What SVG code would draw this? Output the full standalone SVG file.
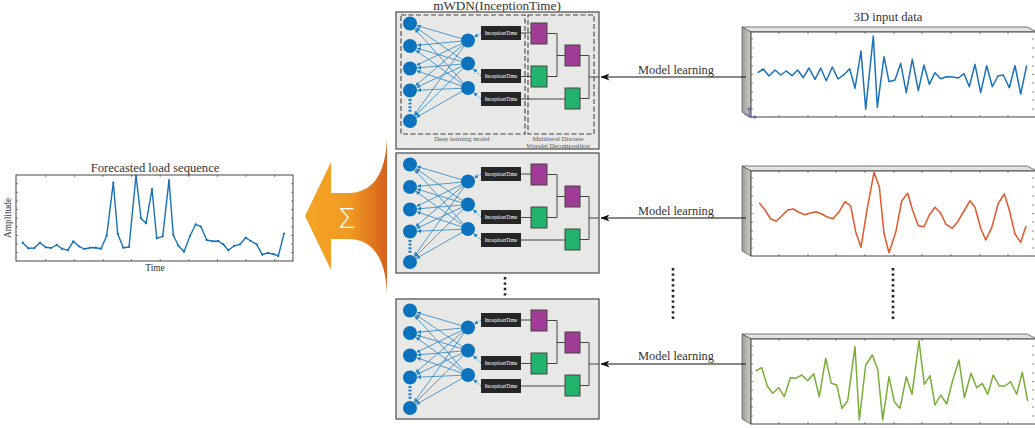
<svg xmlns="http://www.w3.org/2000/svg" xmlns:xlink="http://www.w3.org/1999/xlink" width="1035" height="428" viewBox="0 0 1035 428">
<style>
text{font-family:"Liberation Serif","DejaVu Serif",serif;fill:#333}
.title{font-size:12.6px}
.ml{font-size:12.4px}
.small{font-size:6.6px;fill:#555}
.it{font-size:5.6px;fill:#fff}
.box{fill:#e8e8e6;stroke:#555;stroke-width:1.3}
.dash{fill:none;stroke:#444;stroke-width:1.1;stroke-dasharray:5 2.5}
.nn{fill:#0b72be}
.nl{stroke:#1f7fc9;stroke-width:0.75;fill:none}
.itbox{fill:#262626}
.pur{fill:#a03c96;stroke:#444;stroke-width:1}
.grn{fill:#22b46c;stroke:#444;stroke-width:1}
.wl{fill:none;stroke:#333;stroke-width:0.9}
.frame{fill:#fff;stroke:#333;stroke-width:0.9}
.tick{fill:none;stroke:#333;stroke-width:0.6}
.side{fill:#b9b9b2;stroke:#555;stroke-width:0.7}
.topf{fill:#e4e4e2;stroke:#444;stroke-width:0.7}
.conn{stroke:#111;stroke-width:1.1;fill:none}
.dots{stroke:#222;stroke-width:2.6;stroke-dasharray:2.4 3;fill:none}
</style>
<defs>
<marker id="ah" markerWidth="4" markerHeight="4" refX="3.6" refY="2" orient="auto" markerUnits="userSpaceOnUse">
<path d="M0,0 L4,2 L0,4 z" fill="#1f7fc9"/>
</marker>
<marker id="bh" markerWidth="9" markerHeight="7" refX="8.5" refY="3.5" orient="auto" markerUnits="userSpaceOnUse">
<path d="M0,0 L9,3.5 L0,7 L2.5,3.5 z" fill="#111"/>
</marker>
<marker id="dot" markerWidth="3" markerHeight="3" refX="1.5" refY="1.5" markerUnits="userSpaceOnUse">
<circle cx="1.5" cy="1.5" r="1.1" fill="#1672b8"/>
</marker>
<linearGradient id="og" x1="305" y1="0" x2="387" y2="0" gradientUnits="userSpaceOnUse">
<stop offset="0" stop-color="#f4a526"/>
<stop offset="0.55" stop-color="#f09a22"/>
<stop offset="1" stop-color="#d6601e"/>
</linearGradient>
<linearGradient id="sg" x1="0" y1="0" x2="1" y2="0">
<stop offset="0" stop-color="#9c9c95"/>
<stop offset="1" stop-color="#cfcfc9"/>
</linearGradient>
<g id="wdn">
<g class="nl" marker-end="url(#ah)">
<line x1="72" y1="28.5" x2="21.2" y2="13.6"/>
<line x1="72" y1="28.5" x2="21.5" y2="33.3"/>
<line x1="72" y1="28.5" x2="20.8" y2="53.2"/>
<line x1="72" y1="28.5" x2="19.7" y2="73.6"/>
<line x1="72" y1="28.5" x2="18.4" y2="102.9"/>
<line x1="72" y1="51.5" x2="20.2" y2="15.8"/>
<line x1="72" y1="51.5" x2="21.2" y2="36.2"/>
<line x1="72" y1="51.5" x2="21.5" y2="55.9"/>
<line x1="72" y1="51.5" x2="20.8" y2="75.3"/>
<line x1="72" y1="51.5" x2="19.3" y2="103.7"/>
<line x1="72" y1="76" x2="19.0" y2="17.1"/>
<line x1="72" y1="76" x2="20.1" y2="38.4"/>
<line x1="72" y1="76" x2="21.1" y2="58.9"/>
<line x1="72" y1="76" x2="21.5" y2="78.2"/>
<line x1="72" y1="76" x2="20.5" y2="105.3"/>
</g>
<g class="nl" stroke-dasharray="1.5 1" marker-end="url(#ah)">
<line x1="85" y1="21" x2="78.5" y2="24.8"/>
<line x1="85" y1="64" x2="77.4" y2="56.7"/>
<line x1="85" y1="87" x2="77.7" y2="80.8"/>
</g>
<g class="nn">
<circle cx="14" cy="11.5" r="7"/>
<circle cx="14" cy="34" r="7"/>
<circle cx="14" cy="56.5" r="7"/>
<circle cx="14" cy="78.5" r="7"/>
<circle cx="14" cy="109" r="7"/>
<circle cx="72" cy="28.5" r="7"/>
<circle cx="72" cy="51.5" r="7"/>
<circle cx="72" cy="76" r="7"/>
</g>
<line x1="14" y1="87" x2="14" y2="101" stroke="#1f7fc9" stroke-width="3" stroke-dasharray="2 1.6"/>
<rect class="itbox" x="85" y="14" width="40" height="14"/>
<rect class="itbox" x="85" y="57" width="40" height="14"/>
<rect class="itbox" x="85" y="80" width="40" height="14"/>
<text class="it" x="105" y="23" text-anchor="middle">InceptionTime</text>
<text class="it" x="105" y="66" text-anchor="middle">InceptionTime</text>
<text class="it" x="105" y="89" text-anchor="middle">InceptionTime</text>
<path class="wl" d="M125,21 H135 M151,21.5 H161 V64.5 H151 M161,43.5 H169 M125,64.5 H135 M125,87 H169 M184,43.5 H193 V86.5 H184 M193,65 H203"/>
<rect class="pur" x="135" y="11" width="16" height="21"/>
<rect class="grn" x="135" y="54" width="16" height="21"/>
<rect class="pur" x="169" y="33" width="15" height="21"/>
<rect class="grn" x="169" y="76" width="15" height="21"/>
</g>
<path id="pticks" class="tick" d="M28,0v2M57,0v2M85,0v2M114,0v2M143,0v2M171,0v2M200,0v2M229,0v2M257,0v2M28,85v-2M57,85v-2M85,85v-2M114,85v-2M143,85v-2M171,85v-2M200,85v-2M229,85v-2M257,85v-2M0,7h2M0,16h2M0,25h2M0,34h2M0,42.5h2M0,51h2M0,60h2M0,68h2M0,77h2M281,7h2M281,16h2M281,25h2M281,34h2M281,42.5h2M281,51h2M281,60h2M281,68h2M281,77h2"/>
</defs>

<!-- Forecast plot -->
<g id="forecast">
<text class="title" x="155" y="171.5" text-anchor="middle">Forecasted load sequence</text>
<rect class="frame" x="16" y="175" width="277" height="86"/>
<path class="tick" d="M45.7,175v2M74.3,175v2M103,175v2M131.6,175v2M160.2,175v2M188.8,175v2M217.4,175v2M246,175v2M274.6,175v2M45.7,261v-2M74.3,261v-2M103,261v-2M131.6,261v-2M160.2,261v-2M188.8,261v-2M217.4,261v-2M246,261v-2M274.6,261v-2M16,183.7h2M16,192.3h2M16,201h2M16,209.6h2M16,218.2h2M16,226.8h2M16,235.4h2M16,244h2M16,252.6h2M293,183.7h-2M293,192.3h-2M293,201h-2M293,209.6h-2M293,218.2h-2M293,226.8h-2M293,235.4h-2M293,244h-2M293,252.6h-2"/>
<polyline fill="none" stroke="#1672b8" stroke-width="1.4" stroke-linejoin="round" marker-start="url(#dot)" marker-mid="url(#dot)" marker-end="url(#dot)" points="22.7,242.7 28.3,248.3 34.3,248 40,242.7 45.7,247.3 51,248 56.7,245 62,248.7 67.7,250.3 73.3,241.3 79,246.3 84.3,249 90,247.7 95.7,247.7 101,248.7 106.7,235.7 113.3,182.7 117.7,233.7 123.3,247.7 129,247 136,175.7 141,218.3 146,223.3 152,189 156.7,238.3 162.7,236.3 169,180.3 173.3,235 178.3,245.7 184,251.7 190,236 195.7,224.3 201,226.7 206.7,240 212.7,241.3 218.3,241 223.3,244.3 228.3,250.3 234,246 240,244.3 245.7,237.7 250.7,241 256.7,244.3 262.3,254.7 267.7,253 273.3,254 278.3,256 284,233.7"/>
<text x="11" y="218" font-size="9.4" text-anchor="middle" transform="rotate(-90 11 218)">Amplitude</text>
<text x="155" y="271" font-size="9.4" text-anchor="middle">Time</text>
</g>

<!-- Sum arrow -->
<g id="sum">
<path fill="url(#og)" d="M305,216 L331,162 L331,193 L348,193 C372,193 386,175 387,137 L387,295 C386,257 372,239 348,239 L331,239 L331,270 Z"/>
<text x="347" y="228" font-size="28" style="fill:#fff;font-family:'Open Sans','Lato','Liberation Sans',sans-serif;font-weight:300" text-anchor="middle">Σ</text>
</g>

<!-- mWDN boxes -->
<text class="title" x="497" y="10" text-anchor="middle" style="font-size:13.2px">mWDN(InceptionTime)</text>
<g id="mwdn-1" transform="translate(396,12)">
<rect class="box" x="0" y="0" width="203" height="137"/>
<rect class="dash" x="5" y="3" width="124" height="119"/>
<rect class="dash" x="132" y="3" width="66" height="119"/>
<use href="#wdn" xlink:href="#wdn"/>
<text class="small" x="66" y="129" text-anchor="middle">Deep learning model</text>
<text class="small" x="162" y="129" text-anchor="middle">Multilevel Discrete</text>
<text class="small" x="162" y="136" text-anchor="middle">Wavelet Decomposition</text>
</g>
<g id="mwdn-2" transform="translate(396,153)">
<rect class="box" x="0" y="0" width="203" height="120"/>
<use href="#wdn" xlink:href="#wdn"/>
</g>
<g id="mwdn-3" transform="translate(396,299)">
<rect class="box" x="0" y="0" width="203" height="120"/>
<use href="#wdn" xlink:href="#wdn"/>
</g>

<!-- Input panels -->
<g id="input-1">
<text class="title" x="888" y="21" text-anchor="middle">3D input data</text>
<polygon class="topf" points="742,27 1027,27 1037,32 751,32"/>
<polygon class="side" style="fill:url(#sg)" points="742,27 751,32 751,117 742,112"/>
<rect class="frame" x="751" y="32" width="290" height="85"/>
<use href="#pticks" xlink:href="#pticks" transform="translate(751,32)"/>
<polyline fill="none" stroke="#1a72bb" stroke-width="1.5" stroke-linejoin="round" points="757.7,72.7 763.3,69 769,76 775,70 780.7,75 786.3,71 792,75.7 797.7,70 803.3,77.7 809,68 815,79.3 820.7,68 826.3,80.7 832.3,67 838,79 844,74.7 849.7,68.7 855,88.3 861,51 865.7,109.3 873.3,36 877.3,107.3 884,56.7 889,81.7 895,80 900.7,63.3 906.3,92.7 912.3,59.3 918.3,90.7 924,65 929.3,84.3 935,72.7 940.7,78.7 946.7,76.7 952.7,77 958.3,78 964,73.7 969.3,86.7 975,64.3 980.7,92.7 986.7,65.7 992.3,86.7 998,76 1003.3,75 1009.3,87.7 1015,65.7 1020.7,94 1026.7,65.3"/>
<path fill="none" stroke="#4a4ac8" stroke-width="0.8" d="M749,117 V108 M747.5,110 L749,107.5 L750.5,110 M749,117 H756 M754,115.5 L756.5,117 L754,118.5 M749,117 L743.5,113.5"/>
</g>
<g id="input-2">
<polygon class="topf" points="742,166 1027,166 1037,171 751,171"/>
<polygon class="side" style="fill:url(#sg)" points="742,166 751,171 751,256 742,251"/>
<rect class="frame" x="751" y="171" width="290" height="85"/>
<use href="#pticks" xlink:href="#pticks" transform="translate(751,171)"/>
<polyline fill="none" stroke="#e0572a" stroke-width="1.5" stroke-linejoin="round" points="759.3,202.7 765,210 770.7,219 776.3,221 782,215.7 787.7,210 793.3,209 799,212.3 804.7,214.7 810.3,213 816,211.7 821.7,214 827.3,217 833,218.7 838.7,212.3 845,201.7 850.7,206 855.7,231.7 861,247.3 866.7,211.7 874,172.3 879.3,186.7 884,233.3 889,252.7 895.7,232.3 901.7,201 907.7,193.3 912.3,209.3 918.3,225.7 924,226.7 929.3,215 935,207.3 940.7,213.3 946,224.3 952.3,228.3 957.7,221.7 964,211 970,200.7 975,207.3 980.7,228.3 985.7,240 991.7,227.7 998.3,203.3 1004.3,194 1009.3,210 1015,234 1020.7,242.3 1026,226"/>
</g>
<g id="input-3">
<polygon class="topf" points="742,334 1027,334 1037,339 751,339"/>
<polygon class="side" style="fill:url(#sg)" points="742,334 751,339 751,424 742,419"/>
<rect class="frame" x="751" y="339" width="290" height="85"/>
<use href="#pticks" xlink:href="#pticks" transform="translate(751,339)"/>
<polyline fill="none" stroke="#78ae35" stroke-width="1.5" stroke-linejoin="round" points="755.7,371 761.7,367.7 767.3,386 772.7,393.3 778.7,387.7 784.3,396.7 790.3,377.7 795.7,378.3 801.7,375 807.7,380.7 813.7,373.7 819.3,396.7 825.7,358.3 831.3,383.3 836.7,385 842,408.3 847.7,400.7 855,346.7 859.3,420 865.7,365 872.3,355 877.7,369.3 882.7,420 889,376.7 894.3,401.7 900,408.3 906.3,376.7 912,394.3 919,340.7 924.3,384.3 930,375.7 935,405 940.7,395 946.7,404 952.3,381.7 959,360 964.3,397.7 971,373.3 976.7,387.7 982.3,383.3 987.7,394.3 993.3,375 999.3,386 1005,386 1010.7,381.7 1016.7,394.3 1022.3,372.3 1027.7,401"/>
</g>

<!-- Connectors -->
<g id="connectors">
<line class="conn" x1="746" y1="77" x2="601" y2="77" marker-end="url(#bh)"/>
<line class="conn" x1="746" y1="218" x2="601" y2="218" marker-end="url(#bh)"/>
<line class="conn" x1="746" y1="364" x2="601" y2="364" marker-end="url(#bh)"/>
<text class="ml" x="676" y="74" text-anchor="middle">Model learning</text>
<text class="ml" x="676" y="215" text-anchor="middle">Model learning</text>
<text class="ml" x="676" y="360" text-anchor="middle">Model learning</text>
</g>

<!-- Ellipsis dots -->
<g id="ellipsis">
<line class="dots" x1="505" y1="277" x2="505" y2="296"/>
<line class="dots" x1="673" y1="268" x2="673" y2="321"/>
<line class="dots" x1="893" y1="268" x2="893" y2="321"/>
</g>
</svg>
